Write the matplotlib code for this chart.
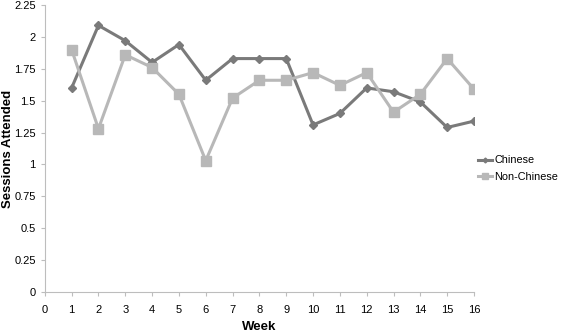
import matplotlib
matplotlib.use("Agg")
from matplotlib import pyplot as plt

# weekly attendance
weeks = list(range(1, 17))
chinese = [1.60, 2.09, 1.97, 1.80, 1.94, 1.66, 1.83, 1.83, 1.83, 1.31, 1.40, 1.60, 1.57, 1.49, 1.29, 1.34]
non_chinese = [1.90, 1.28, 1.86, 1.76, 1.55, 1.03, 1.52, 1.66, 1.66, 1.72, 1.62, 1.72, 1.41, 1.55, 1.83, 1.59]

plt.rcParams['font.family'] = ['Liberation Sans', 'DejaVu Sans']

fig = plt.figure(figsize=(5.67, 3.33), dpi=100)
ax = fig.add_axes([0.079, 0.123, 0.757, 0.862])

ax.plot(weeks, chinese, color="#7a7a7a", lw=2.2, marker="D", ms=4.5, label="Chinese")
ax.plot(weeks, non_chinese, color="#b8b8b8", lw=2.2, marker="s", ms=7, label="Non-Chinese")

ax.set_xlim(0, 16)
ax.set_ylim(0, 2.25)
ax.set_xticks(range(0, 17))
yt = [i * 0.25 for i in range(10)]
ax.set_yticks(yt)
ax.set_yticklabels(["0", "0.25", "0.5", "0.75", "1", "1.25", "1.5", "1.75", "2", "2.25"])

for s in ["top", "right"]:
    ax.spines[s].set_visible(False)
for s in ["left", "bottom"]:
    ax.spines[s].set_color("#bdbdbd")
    ax.spines[s].set_linewidth(0.8)
ax.tick_params(axis="both", colors="#bdbdbd", labelcolor="black", labelsize=8, length=3)
ax.tick_params(axis="x", pad=6)

ax.set_xlabel("Week", fontsize=9.5, fontweight="bold")
ax.xaxis.set_label_coords(0.5, -0.1)
ax.set_ylabel("Sessions Attended", fontsize=9.5, fontweight="bold")
ax.yaxis.set_label_coords(-0.072, 0.5)

ax.legend(loc="center left", bbox_to_anchor=(0.995, 0.43), frameon=False, fontsize=7.8,
          handlelength=1.3, handletextpad=0.15, labelspacing=0.6, markerscale=0.55,
          borderaxespad=0.2)

fig.savefig("out.png", dpi=100)
